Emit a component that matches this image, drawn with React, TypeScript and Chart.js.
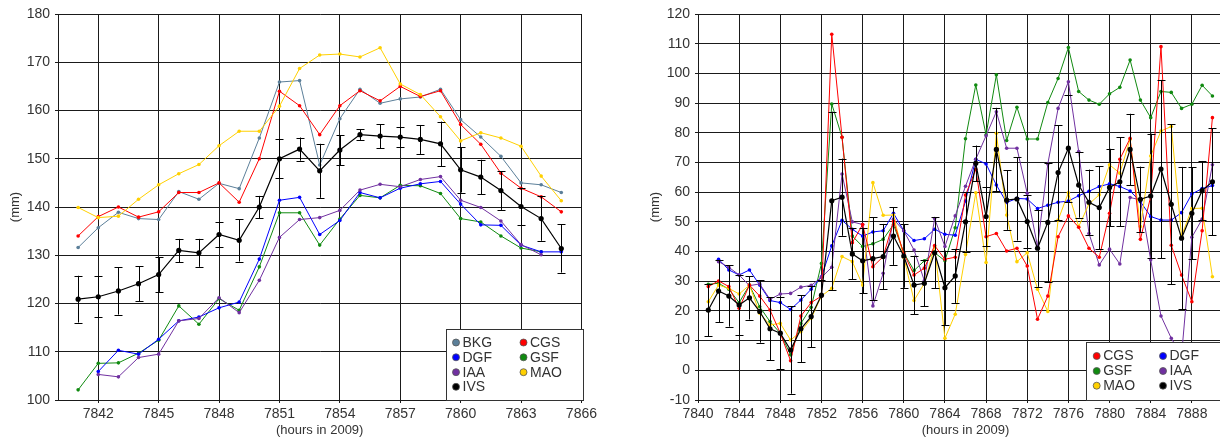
import React, { useEffect, useRef } from 'react';
import { Chart, registerables } from 'chart.js';

Chart.register(...registerables);

// ---------------- LEFT PANEL DATA ----------------
const leftHours = [7841, 7842, 7843, 7844, 7845, 7846, 7847, 7848, 7849, 7850, 7851, 7852, 7853,
  7854, 7855, 7856, 7857, 7858, 7859, 7860, 7861, 7862, 7863, 7864, 7865];

const leftBKG = [131.6, 135.7, 138.9, 137.6, 137.4, 143.2, 141.6, 144.9, 143.8, 154.3, 165.9, 166.2, 148.7,
  158.3, 164.4, 161.5, 162.4, 162.8, 164.4, 158.1, 154.5, 150.5, 145.0, 144.6, 143.0];
const leftCGS = [134.0, 138.0, 140.0, 137.9, 139.0, 143.0, 143.0, 145.0, 141.0, 150.0, 164.0, 161.0, 155.0,
  161.0, 164.1, 162.0, 165.0, 162.9, 164.1, 157.1, 153.0, 147.0, 143.9, 142.1, 139.0];
const leftDGF = [null, 105.9, 110.3, 109.5, 112.6, 116.4, 117.2, 119.1, 120.3, 129.2, 141.4, 142.0, 134.3,
  137.2, 143.0, 141.9, 143.9, 144.8, 145.3, 140.6, 136.3, 136.2, 132.1, 130.7, 130.7];
const leftGSF = [102.1, 107.6, 107.7, 109.7, 112.4, 119.5, 115.7, 121.0, 118.6, 127.6, 138.8, 138.8, 132.1,
  137.5, 142.4, 141.9, 144.5, 144.4, 142.8, 137.6, 136.9, 134.0, 131.5, 130.7, null];
const leftIAA = [null, 105.3, 104.8, 108.8, 109.5, 116.4, 116.9, 121.2, 118.1, 124.8, 133.7, 137.4, 137.8,
  139.3, 143.5, 144.7, 144.2, 145.7, 146.3, 141.4, 139.9, 137.1, 132.2, 130.1, null];
const leftMAO = [139.9, 137.8, 138.1, 141.6, 144.6, 146.9, 148.8, 152.7, 155.7, 155.7, 160.9, 168.7, 171.5,
  171.7, 171.1, 173.0, 165.5, 163.3, 158.7, 153.7, 155.4, 154.3, 152.6, 146.4, 141.3];
const leftIVS = [120.9, 121.4, 122.6, 124.1, 126.0, 131.0, 130.5, 134.3, 133.1, 140.0, 150.0, 152.0, 147.5,
  151.8, 155.0, 154.7, 154.5, 154.0, 153.1, 147.7, 146.2, 143.4, 140.1, 137.6, 131.4];
const leftIVSErr = [4.85, 4.3, 4.9, 3.6, 3.6, 2.4, 2.9, 2.6, 4.4, 2.3, 4.0, 2.4, 5.6,
  3.1, 1.1, 2.5, 2.0, 3.0, 4.6, 4.7, 3.6, 4.0, 3.9, 4.6, 5.0];

const leftXTicks = [7842, 7845, 7848, 7851, 7854, 7857, 7860, 7863, 7866];
const leftYTicks = [100, 110, 120, 130, 140, 150, 160, 170, 180];

// ---------------- RIGHT PANEL DATA ----------------
const rightHours = [7841, 7842, 7843, 7844, 7845, 7846, 7847, 7848, 7849, 7850,
  7851, 7852, 7853, 7854, 7855, 7856, 7857, 7858, 7859, 7860,
  7861, 7862, 7863, 7864, 7865, 7866, 7867, 7868, 7869, 7870,
  7871, 7872, 7873, 7874, 7875, 7876, 7877, 7878, 7879, 7880,
  7881, 7882, 7883, 7884, 7885, 7886, 7887, 7888, 7889, 7890];

const rightCGS = [28.2, 30.1, 28.2, 20.9, 28.7, 25.0, 20.3, 12.5, 3.2, 18.3,
  22.8, 25.0, 113.2, 78.5, 43.0, 49.1, 34.9, 38.3, 50.2, 39.4,
  32.1, 34.4, 42.0, 37.4, 38.1, 59.0, 67.7, 45.0, 46.1, 40.2,
  41.1, 35.1, 17.2, 25.0, 45.0, 52.0, 48.2, 41.1, 38.1, 52.9,
  71.1, 78.1, 44.1, 58.5, 109.0, 42.1, 32.1, 23.1, 47.0, 85.1];
const rightDGF = [null, 37.4, 33.8, 32.1, 33.8, 28.7, 23.5, 22.8, 20.5, 23.7,
  27.3, 31.5, 41.9, 50.5, 47.5, 45.2, 46.6, 47.0, 52.9, 47.0,
  43.7, 44.3, 47.5, 45.8, 45.5, 57.0, 71.1, 69.5, 62.4, 56.5,
  57.9, 57.7, 54.5, 55.6, 56.6, 57.0, 58.8, 60.3, 61.9, 62.8,
  61.9, 60.4, 56.8, 51.8, 50.6, 50.6, 53.1, 59.4, 61.2, 62.2];
const rightGSF = [29.0, 29.3, 27.3, 22.8, 28.7, 21.4, 16.4, 12.5, 5.2, 15.8,
  21.2, 36.0, 89.7, 78.5, 45.2, 41.7, 42.6, 44.1, 49.1, 39.6,
  33.6, 36.9, 39.6, 36.9, 48.0, 78.0, 96.1, 79.3, 99.5, 77.4,
  88.6, 77.9, 77.9, 90.2, 98.3, 108.7, 93.9, 91.0, 89.6, 93.1,
  95.3, 104.5, 91.0, 85.1, 93.9, 93.6, 88.2, 89.6, 96.0, 92.4];
const rightIAA = [null, 36.6, 34.7, 32.1, 28.5, 29.1, 23.9, 25.7, 25.9, 28.0,
  28.6, 31.3, 34.7, 66.1, 50.0, 49.1, 21.7, 32.7, 50.9, 47.0,
  40.5, 30.2, 51.1, 41.7, 52.0, 62.0, 71.1, 79.0, 87.1, 74.8,
  74.8, 59.6, 41.7, 69.5, 88.2, 97.2, 73.7, 46.1, 35.5, 40.8,
  35.8, 58.2, 57.4, 37.2, 18.3, 10.8, 5.0, 44.8, 50.9, 69.2];
const rightMAO = [23.1, 28.7, 27.6, 25.7, 28.7, 19.2, 15.3, 15.8, 10.2, 13.0,
  17.5, 25.0, 27.6, 38.3, 36.6, 28.7, 63.2, 52.2, 52.3, 38.1,
  23.5, 29.3, 41.7, 10.8, 18.9, 39.0, 59.8, 36.3, 79.8, 52.3,
  36.6, 39.6, 27.3, 19.8, 50.6, 59.8, 48.4, 56.0, 59.1, 69.2,
  66.4, 77.8, 48.4, 72.2, 80.6, 82.1, 45.2, 54.5, 54.6, 31.5];
const rightIVS = [20.3, 26.7, 25.0, 22.0, 24.4, 19.8, 14.0, 12.5, 6.8, 14.0,
  18.1, 25.3, 57.1, 58.3, 39.2, 36.9, 37.6, 38.3, 45.2, 38.5,
  28.7, 29.3, 39.6, 27.8, 31.8, 50.0, 69.7, 51.8, 74.4, 57.3,
  57.7, 50.1, 41.1, 49.8, 66.6, 74.8, 62.4, 56.6, 54.8, 61.6,
  63.5, 74.4, 57.6, 58.7, 67.8, 55.9, 44.5, 52.9, 60.5, 63.5];
const rightIVSErr = [8.8, 10.5, 10.3, 10.0, 7.3, 10.5, 10.6, 12.2, 14.7, 11.2,
  10.3, 5.0, 30.0, 13.0, 8.6, 11.0, 13.9, 11.0, 9.7, 10.7,
  9.9, 7.7, 11.9, 12.5, 9.1, 10.0, 6.0, 10.0, 14.0, 10.0,
  14.0, 8.8, 13.0, 20.0, 16.0, 18.0, 11.0, 11.0, 14.0, 13.0,
  15.0, 12.0, 11.0, 21.0, 30.0, 27.0, 24.0, 15.5, 10.0, 18.0];

const rightXTicks = [7840, 7844, 7848, 7852, 7856, 7860, 7864, 7868, 7872, 7876, 7880, 7884, 7888];
const rightYTicks = [-10, 0, 10, 20, 30, 40, 50, 60, 70, 80, 90, 100, 110, 120];

// ---------------- STYLE ----------------
const COLORS: Record<string, string> = {
  BKG: '#5b7f99',
  CGS: '#ff0000',
  DGF: '#0000ff',
  GSF: '#108a10',
  IAA: '#7030a0',
  MAO: '#ffd000',
  IVS: '#000000',
};
const FONT = "'Liberation Sans', Arial, sans-serif";
const GRID = '#1a1a1a';
const TEXT = '#333333';

function ds(label: string, hours: number[], values: (number | null)[], order: number) {
  const isIVS = label === 'IVS';
  return {
    label,
    data: hours.map((h, i) => ({ x: h, y: values[i] })),
    borderColor: COLORS[label],
    backgroundColor: COLORS[label],
    borderWidth: isIVS ? 1.2 : 1,
    pointRadius: isIVS ? 2.6 : 1.8,
    pointBorderWidth: 0,
    pointHoverRadius: 0,
    spanGaps: false,
    tension: 0,
    order,
  };
}

function errorBarPlugin(label: string, values: (number | null)[], errs: number[]) {
  return {
    id: 'errorBars',
    beforeDatasetDraw(chart: any, args: any) {
      const dsx = chart.data.datasets[args.index];
      if (!dsx || dsx.label !== label) return;
      const ctx = chart.ctx;
      const meta = chart.getDatasetMeta(args.index);
      const yS = chart.scales.y;
      ctx.save();
      ctx.strokeStyle = '#000';
      ctx.lineWidth = 1;
      meta.data.forEach((pt: any, i: number) => {
        const v = values[i];
        if (v === null || v === undefined) return;
        const e = errs[i];
        const x = Math.round(pt.x) + 0.5;
        const yt = yS.getPixelForValue(v + e);
        const yb = yS.getPixelForValue(v - e);
        ctx.beginPath();
        ctx.moveTo(x, yt);
        ctx.lineTo(x, yb);
        ctx.moveTo(x - 4, Math.round(yt) + 0.5);
        ctx.lineTo(x + 4, Math.round(yt) + 0.5);
        ctx.moveTo(x - 4, Math.round(yb) + 0.5);
        ctx.lineTo(x + 4, Math.round(yb) + 0.5);
        ctx.stroke();
      });
      ctx.restore();
    },
  };
}

type LegendLayout = {
  x: number; y: number; w: number; h: number;
  rowY: number[]; colX: number[];
};

function legendPlugin(layout: LegendLayout, labels: string[]) {
  return {
    id: 'boxLegend',
    afterDraw(chart: any) {
      const ctx = chart.ctx;
      ctx.save();
      ctx.fillStyle = '#ffffff';
      ctx.fillRect(layout.x, layout.y, layout.w, layout.h);
      ctx.strokeStyle = '#333';
      ctx.lineWidth = 1;
      ctx.strokeRect(layout.x + 0.5, layout.y + 0.5, layout.w, layout.h);
      ctx.font = `14px ${FONT}`;
      ctx.textBaseline = 'middle';
      ctx.textAlign = 'left';
      labels.forEach((lab, i) => {
        const r = Math.floor(i / 2);
        const c = i % 2;
        const cx = layout.colX[c];
        const cy = layout.rowY[r];
        ctx.beginPath();
        ctx.arc(cx, cy, 3.5, 0, Math.PI * 2);
        ctx.fillStyle = COLORS[lab];
        ctx.fill();
        ctx.strokeStyle = '#555';
        ctx.lineWidth = 0.8;
        ctx.stroke();
        ctx.fillStyle = TEXT;
        ctx.fillText(lab, cx + 6.5, cy + 0.5);
      });
      ctx.restore();
    },
  };
}

function makeScales(opts: {
  xMin: number; xMax: number; xTicks: number[];
  yMin: number; yMax: number; yTicks: number[];
  yWidth: number; yTitlePad: number;
}) {
  return {
    x: {
      type: 'linear',
      min: opts.xMin,
      max: opts.xMax,
      afterBuildTicks: (s: any) => { s.ticks = opts.xTicks.map((v) => ({ value: v })); },
      afterFit: (s: any) => { s.height = 40; },
      grid: { color: GRID, lineWidth: 1, tickLength: 3, drawTicks: true },
      border: { display: true, color: GRID, width: 1 },
      ticks: {
        autoSkip: false, maxRotation: 0, padding: 3, color: TEXT,
        font: { family: FONT, size: 14 },
        callback: (v: any) => String(v),
      },
      title: {
        display: true, text: '(hours in 2009)', color: TEXT,
        font: { family: FONT, size: 13 }, padding: { top: 0, bottom: 2 },
      },
    },
    y: {
      type: 'linear',
      min: opts.yMin,
      max: opts.yMax,
      afterBuildTicks: (s: any) => { s.ticks = opts.yTicks.map((v) => ({ value: v })); },
      afterFit: (s: any) => { s.width = opts.yWidth; },
      grid: { color: GRID, lineWidth: 1, tickLength: 3, drawTicks: true },
      border: { display: true, color: GRID, width: 1 },
      ticks: {
        autoSkip: false, padding: 5, color: TEXT,
        font: { family: FONT, size: 14 },
        callback: (v: any) => String(v),
      },
      title: {
        display: true, text: '(mm)', color: TEXT,
        font: { family: FONT, size: 13 }, padding: { top: opts.yTitlePad, bottom: 0 },
      },
    },
  };
}

function leftConfig(): any {
  return {
    type: 'line',
    data: {
      datasets: [
        ds('IVS', leftHours, leftIVS, 0),
        ds('MAO', leftHours, leftMAO, 1),
        ds('CGS', leftHours, leftCGS, 2),
        ds('BKG', leftHours, leftBKG, 3),
        ds('IAA', leftHours, leftIAA, 4),
        ds('DGF', leftHours, leftDGF, 5),
        ds('GSF', leftHours, leftGSF, 6),
      ],
    },
    options: {
      animation: false,
      responsive: false,
      devicePixelRatio: 1,
      layout: { padding: { top: 14, right: 17, left: 0, bottom: 0 } },
      plugins: { legend: { display: false }, tooltip: { enabled: false } },
      events: [],
      scales: makeScales({
        xMin: 7840, xMax: 7866, xTicks: leftXTicks,
        yMin: 100, yMax: 180, yTicks: leftYTicks,
        yWidth: 58, yTitlePad: 8,
      }),
    },
    plugins: [
      errorBarPlugin('IVS', leftIVS, leftIVSErr),
      legendPlugin(
        { x: 446, y: 329, w: 137, h: 71, rowY: [342.5, 357.3, 372.2, 386.8], colX: [456, 523.5] },
        ['BKG', 'CGS', 'DGF', 'GSF', 'IAA', 'MAO', 'IVS'],
      ),
    ],
  };
}

function rightConfig(): any {
  return {
    type: 'line',
    data: {
      datasets: [
        ds('IVS', rightHours, rightIVS, 0),
        ds('CGS', rightHours, rightCGS, 1),
        ds('MAO', rightHours, rightMAO, 2),
        ds('IAA', rightHours, rightIAA, 3),
        ds('DGF', rightHours, rightDGF, 4),
        ds('GSF', rightHours, rightGSF, 5),
      ],
    },
    options: {
      animation: false,
      responsive: false,
      devicePixelRatio: 1,
      layout: { padding: { top: 14, right: 27, left: 0, bottom: 0 } },
      plugins: { legend: { display: false }, tooltip: { enabled: false } },
      events: [],
      scales: makeScales({
        xMin: 7840, xMax: 7892, xTicks: rightXTicks,
        yMin: -10, yMax: 120, yTicks: rightYTicks,
        yWidth: 98, yTitlePad: 48,
      }),
    },
    plugins: [
      errorBarPlugin('IVS', rightIVS, rightIVSErr),
      legendPlugin(
        { x: 486, y: 342, w: 147, h: 58, rowY: [356, 371, 385.7], colX: [496.7, 563] },
        ['CGS', 'DGF', 'GSF', 'IAA', 'MAO', 'IVS'],
      ),
    ],
  };
}

function ChartCanvas({ left, width, height, make }: { left: number; width: number; height: number; make: () => any }) {
  const ref = useRef<HTMLCanvasElement>(null);
  useEffect(() => {
    const chart = new Chart(ref.current as HTMLCanvasElement, make());
    return () => chart.destroy();
  }, []);
  return (
    <canvas
      ref={ref}
      width={width}
      height={height}
      style={{ position: 'absolute', left, top: 0, width, height, display: 'block' }}
    />
  );
}

export default function App() {
  return (
    <div
      style={{
        position: 'fixed', left: 0, top: 0, width: 1220, height: 440,
        overflow: 'hidden', background: '#ffffff',
      }}
    >
      <ChartCanvas left={0} width={600} height={440} make={leftConfig} />
      <ChartCanvas left={600} width={660} height={440} make={rightConfig} />
    </div>
  );
}
